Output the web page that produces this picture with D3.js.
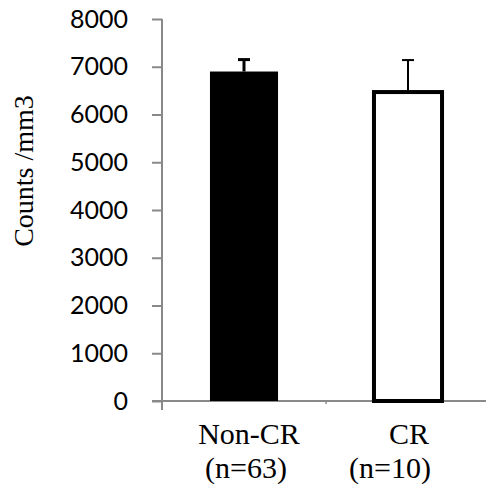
<!DOCTYPE html>
<html>
<head>
<meta charset="utf-8">
<script src="https://cdn.jsdelivr.net/npm/d3@7"></script>
<style>
body { margin: 0; background: #fff; }
.lbl { font-family: "Liberation Serif", "Times New Roman", serif; fill: #000; }
</style>
</head>
<body>
<div id="chart"></div>
<script>
var categories = ["Non-CR", "CR"];
var groupSizes = ["(n=63)", "(n=10)"];
var means = [6900, 6470];
var errors = [250, 670];
var yTicks = [0, 1000, 2000, 3000, 4000, 5000, 6000, 7000, 8000];

var width = 486, height = 488;
var margin = {top: 19, right: -4, bottom: 87, left: 162};
var chartWidth = width - margin.left - margin.right,
	chartHeight = height - margin.top - margin.bottom;

var svg = d3.select("#chart").append("svg")
	.attr("width", width)
	.attr("height", height);

var g = svg.append("g")
	.attr("transform", "translate(" + margin.left + "," + margin.top + ")");

var x = d3.scaleBand().domain(categories).range([0, chartWidth]).padding(0);
var y = d3.scaleLinear().domain([0, 8000]).range([chartHeight, 0]);
var barW = x.bandwidth() * 0.415;

// y axis
var yAxis = g.append("g")
	.attr("class", "y axis")
	.call(d3.axisLeft(y).tickValues(yTicks).tickFormat(d3.format("d"))
		.tickSizeInner(10).tickSizeOuter(0).tickPadding(24));
yAxis.attr("font-family", "Lato, 'Open Sans', sans-serif").attr("font-size", 25);
yAxis.selectAll(".tick text").attr("fill", "#000");
yAxis.select(".domain").attr("stroke", "#898989").attr("stroke-width", 2)
	.attr("d", "M0,0V" + (chartHeight + 9));
yAxis.selectAll(".tick line").attr("x1", 0).attr("x2", -10)
	.attr("stroke", "#898989").attr("stroke-width", 2);

// x axis
var xAxis = g.append("g")
	.attr("class", "x axis")
	.attr("transform", "translate(0," + chartHeight + ")");
xAxis.append("line")
	.attr("x1", -10).attr("x2", chartWidth)
	.attr("stroke", "#898989").attr("stroke-width", 2);
xAxis.selectAll(".sep")
	.data(categories.slice(1))
	.enter().append("line")
	.attr("class", "sep")
	.attr("x1", function(d) { return x(d); })
	.attr("x2", function(d) { return x(d); })
	.attr("y1", 0).attr("y2", 3)
	.attr("stroke", "#898989").attr("stroke-width", 1.5);

// bars
g.selectAll(".bar")
	.data(categories)
	.enter().append("rect")
	.attr("class", "bar")
	.attr("x", function(d) { return x(d) + (x.bandwidth() - barW) / 2; })
	.attr("width", barW)
	.attr("y", function(d, i) { return y(means[i]); })
	.attr("height", function(d, i) { return chartHeight - y(means[i]); })
	.attr("fill", function(d, i) { return i === 0 ? "#000" : "#fff"; })
	.attr("stroke", function(d, i) { return i === 0 ? "none" : "#000"; })
	.attr("stroke-width", 4);

// error bars
var eb = g.selectAll(".err")
	.data(categories)
	.enter().append("g")
	.attr("class", "err")
	.attr("transform", function(d) { return "translate(" + (x(d) + x.bandwidth() / 2) + ",0)"; });
eb.append("line")
	.attr("x1", 0).attr("x2", 0)
	.attr("y1", function(d, i) { return y(means[i]) - (i === 0 ? 0 : 2); })
	.attr("y2", function(d, i) { return y(means[i] + errors[i]); })
	.attr("stroke", "#000")
	.attr("stroke-width", function(d, i) { return i === 0 ? 3 : 2; });
eb.append("line")
	.attr("x1", -6).attr("x2", 6)
	.attr("y1", function(d, i) { return y(means[i] + errors[i]); })
	.attr("y2", function(d, i) { return y(means[i] + errors[i]); })
	.attr("stroke", "#000")
	.attr("stroke-width", function(d, i) { return i === 0 ? 3 : 2; });

// category labels
var lab = g.selectAll(".cat")
	.data(categories)
	.enter().append("g")
	.attr("class", "cat")
	.attr("transform", function(d) { return "translate(" + (x(d) + x.bandwidth() / 2) + "," + chartHeight + ")"; });
lab.append("text")
	.attr("class", "lbl")
	.attr("font-size", 30)
	.attr("text-anchor", "middle")
	.attr("x", function(d, i) { return i === 0 ? 5 : 1; })
	.attr("y", 43)
	.text(function(d) { return d; });
lab.append("text")
	.attr("class", "lbl")
	.attr("font-size", 30)
	.attr("text-anchor", "middle")
	.attr("x", function(d, i) { return i === 0 ? 2 : -18; })
	.attr("y", 77)
	.text(function(d, i) { return groupSizes[i]; });

// y label
svg.append("text")
	.attr("class", "lbl")
	.attr("font-size", 28)
	.attr("text-anchor", "middle")
	.attr("transform", "translate(33,171) rotate(-90)")
	.text("Counts /mm3");
</script>
</body>
</html>
